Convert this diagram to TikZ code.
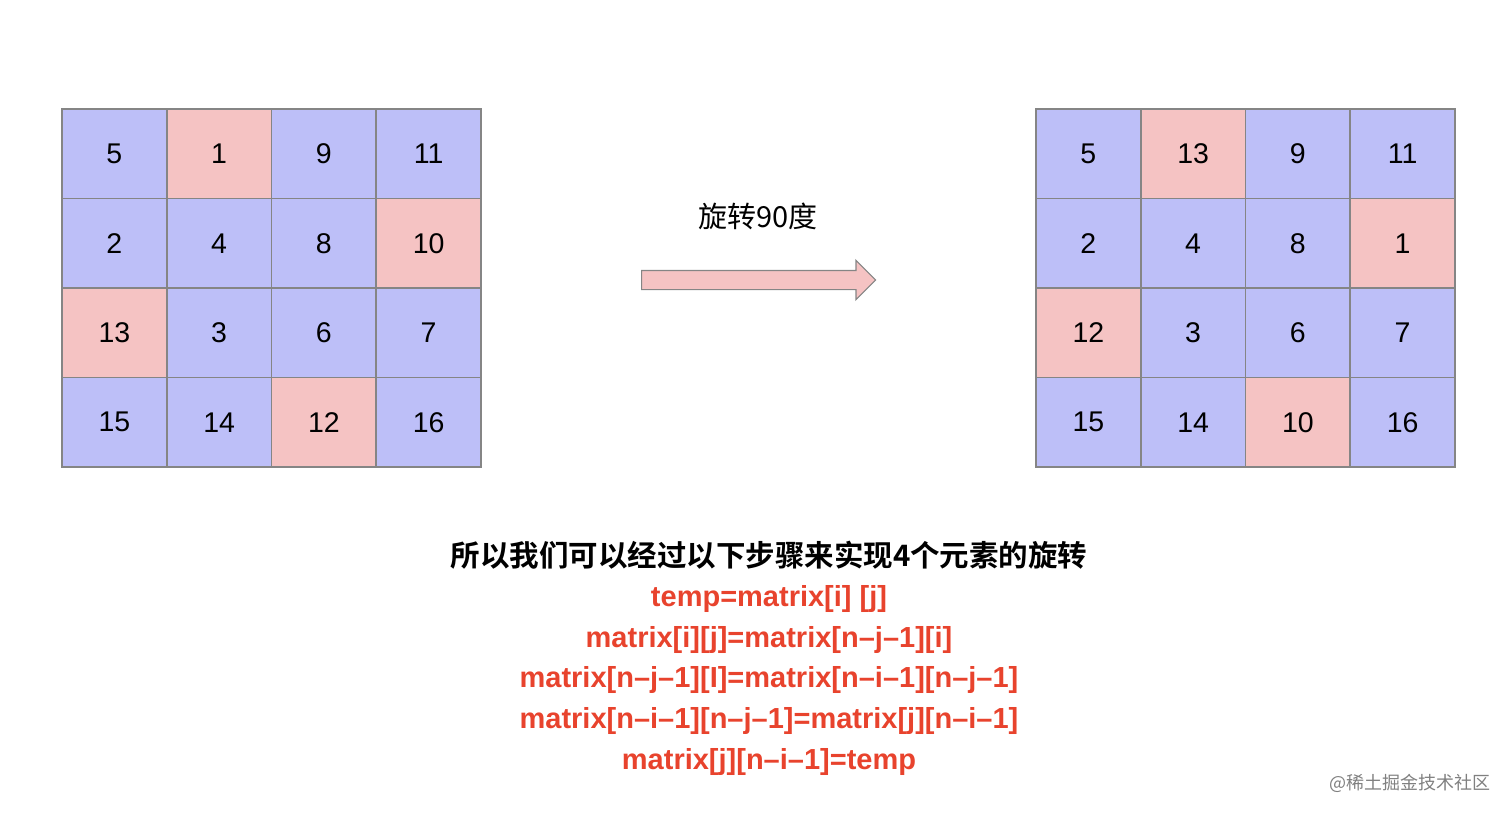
\documentclass[tikz,border=0pt]{standalone}
\usepackage{fontspec}
\setmainfont{Liberation Sans}
\newfontfamily\cjk{Noto Sans CJK SC}[BoldFont={Noto Sans CJK SC Bold}]
\usetikzlibrary{positioning, shapes.arrows}
\definecolor{cellblue}{HTML}{BDBFF8}
\definecolor{cellpink}{HTML}{F5C3C3}
\definecolor{linegray}{HTML}{858585}
\definecolor{codered}{HTML}{E8432D}

\begin{document}
\begin{tikzpicture}[x=1pt, y=-1pt,
        cell/.style={draw=linegray, line width=1.6pt, inner sep=0,
            minimum width=104.75pt, minimum height=89.5pt,
            font=\fontsize{28.5}{28.5}\selectfont},
        bc/.style={fill=cellblue}, pc/.style={fill=cellpink},
        code/.style={text=codered, font=\fontsize{29}{29}\selectfont\bfseries, inner sep=0},
        wmark/.style={text=black!50, font=\cjk\fontsize{18}{18}\selectfont, inner sep=0}]
    \useasboundingbox (0,0) rectangle (1512,816);
    % both grids, left before and right after the turn
    \foreach \l/\r/\c [count=\k from 0] in {5/5/bc, 1/13/pc, 9/9/bc, 11/11/bc,
            2/2/bc, 4/4/bc, 8/8/bc, 10/1/pc, 13/12/pc, 3/3/bc, 6/6/bc, 7/7/bc,
            15/15/bc, 14/14/bc, 12/10/pc, 16/16/bc} {
        \pgfmathtruncatemacro\row{int(\k/4)}
        \pgfmathtruncatemacro\col{mod(\k,4)}
        \node(L\k)[cell, \c] at (62+104.75*\col+52.375, 109+89.5*\row+44.75) {\l};
        \node(R\k)[cell, \c] at (1036+104.75*\col+52.375, 109+89.5*\row+44.75) {\r};
    }
    \node(turn)[single arrow, draw=linegray, fill=cellpink, line width=1.2pt,
        inner sep=9pt, minimum height=234pt, single arrow head extend=10pt,
        single arrow head indent=0pt, anchor=west] at (641,280) {};
    \node(label) at (758,216) {\cjk\fontsize{29}{29}\selectfont 旋转90度};

    \node(steps) at (769,555) {\cjk\fontsize{29.5}{29.5}\selectfont\bfseries 所以我们可以经过以下步骤来实现4个元素的旋转};
    \foreach \t [count=\k] in {{temp=matrix[i] [j]}, {matrix[i][j]=matrix[n–j–1][i]},
            {matrix[n–j–1][I]=matrix[n–i–1][n–j–1]}, {matrix[n–i–1][n–j–1]=matrix[j][n–i–1]},
            {matrix[j][n–i–1]=temp}}
        \node(s\k)[code] at (769,558.5+40.6*\k) {\t};
    \node(wm)[wmark] at (1410,783) {@稀土掘金技术社区};
\end{tikzpicture}
\end{document}
